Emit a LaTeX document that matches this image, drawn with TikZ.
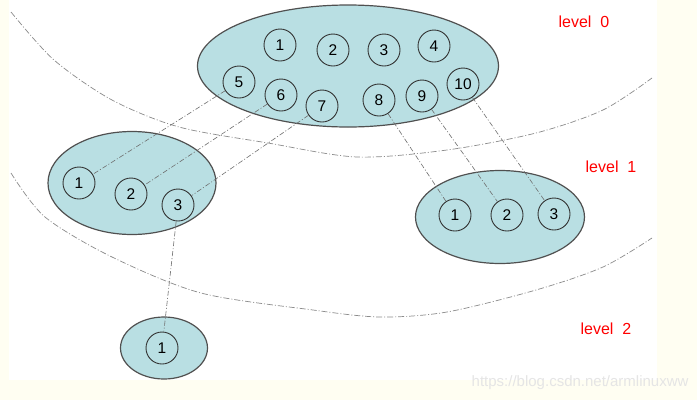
\documentclass[tikz,border=0pt]{standalone}
\usepackage{fontspec}
\setmainfont{Liberation Sans}
\usepackage{tikz}
\usetikzlibrary{shapes.geometric}
\definecolor{pagecream}{RGB}{255, 254, 242}
\definecolor{treefill}{RGB}{185, 223, 227}
\definecolor{treeline}{RGB}{80, 80, 80}
\definecolor{linkgray}{RGB}{110, 110, 110}

\begin{document}
\begin{tikzpicture}[
  x=1pt, y=-1pt,
  group/.style={
    ellipse, draw=treeline, line width=1.2pt, fill=treefill, inner sep=0pt
  },
  item/.style={
    circle, draw=black!80, line width=0.9pt, minimum size=32pt, inner sep=0pt,
    font=\fontsize{15.5}{17}\selectfont
  },
  link/.style={linkgray, line width=0.6pt,
               dash pattern=on 5pt off 2pt on 1pt off 2pt},
  border/.style={linkgray!80, line width=0.7pt,
                 dash pattern=on 6pt off 2pt on 1pt off 2pt},
  tag/.style={font=\fontsize{16}{18}\selectfont, color=red}
]
  % --- Page ---
  \fill[pagecream] (0,0) rectangle (697,400);
  \fill[white] (9,0) rectangle (657,380);
  \useasboundingbox (0,0) rectangle (697,400);

  % --- Level borders ---
  \draw[border] plot[smooth] coordinates {
    (11,12) (54,60) (112,100) (179,127) (268,143) (357,157)
    (447,150) (536,133) (603,110) (652,78)};
  \draw[border] plot[smooth] coordinates {
    (11,173) (45,217) (112,257) (201,293) (313,310) (380,317)
    (447,312) (536,290) (603,267) (652,238)};

  % --- Groups ---
  \node[group, minimum width=301pt, minimum height=122pt] (top)    at (348,66)  {};
  \node[group, minimum width=168pt, minimum height=103pt] (left)   at (132,183) {};
  \node[group, minimum width=169pt, minimum height=93pt]  (right)  at (500,217) {};
  \node[group, minimum width=87pt,  minimum height=62pt]  (bottom) at (164,348) {};

  % --- Items ---
  \node[item] (t1)  at (280,45)  {1};
  \node[item] (t2)  at (333,50)  {2};
  \node[item] (t3)  at (384,50)  {3};
  \node[item] (t4)  at (434,46)  {4};
  \node[item] (t5)  at (239,82)  {5};
  \node[item] (t6)  at (281,95)  {6};
  \node[item] (t7)  at (322,106) {7};
  \node[item] (t8)  at (379,100) {8};
  \node[item] (t9)  at (422,96)  {9};
  \node[item] (t10) at (463,84)  {10};

  \node[item] (l1) at (79,183)  {1};
  \node[item] (l2) at (131,194) {2};
  \node[item] (l3) at (178,205) {3};

  \node[item] (r1) at (455,215) {1};
  \node[item] (r2) at (507,215) {2};
  \node[item] (r3) at (554,214) {3};

  \node[item] (b1) at (162,348) {1};

  % --- Links ---
  \draw[link] (t5) -- (l1);
  \draw[link] (t6) -- (l2);
  \draw[link] (t7) -- (l3);
  \draw[link] (t8) -- (r1);
  \draw[link] (t9) -- (r2);
  \draw[link] (t10) -- (r3);
  \draw[link] (l3) -- (b1);

  % --- Levels ---
  \node[tag] (lv0) at (584,22)  {level\ \ 0};
  \node[tag] (lv1) at (611,167) {level\ \ 1};
  \node[tag] (lv2) at (606,329) {level\ \ 2};

  \node[font=\fontsize{15}{17}\selectfont, color=black!10, anchor=east] (wm)
    at (692,383) {https://blog.csdn.net/armlinuxww};
\end{tikzpicture}
\end{document}
